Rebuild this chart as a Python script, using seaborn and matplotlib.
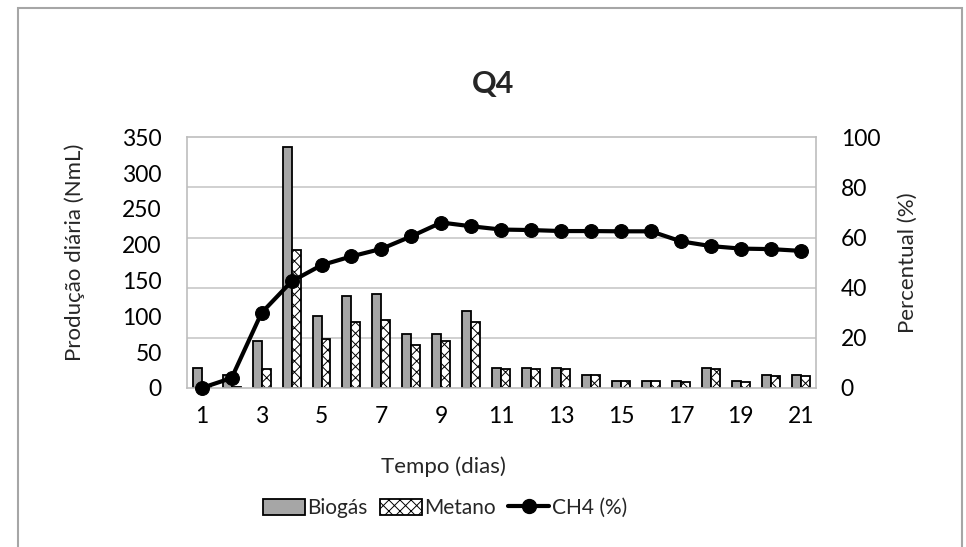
import numpy as np
import pandas as pd
import seaborn as sns
import matplotlib as mpl
import matplotlib.pyplot as plt
from matplotlib.patches import Rectangle, Patch
from matplotlib.lines import Line2D
from matplotlib.ticker import FixedLocator

# dados
dias = list(range(1, 22))
biogas = [28, 18, 65, 337, 101, 129, 131, 75, 75, 108, 28, 28, 28, 18, 10, 10, 10, 28, 10, 18, 18]
metano = [2, 2, 26, 192, 68, 92, 95, 60, 66, 92, 27, 27, 27, 18, 10, 10, 9, 27, 9, 17, 17]
ch4 = [0, 4, 30, 42.5, 49, 52.5, 55.5, 60.5, 66, 64.5, 63.2, 63, 62.6, 62.6, 62.5, 62.5,
       58.5, 56.6, 55.6, 55.4, 54.7]
left_ticks = [0, 50, 100, 150, 200, 250, 300, 350]
right_ticks = [0, 20, 40, 60, 80, 100]

sns.set_theme(style='white')
plt.rcParams['font.family'] = ['Lato', 'DejaVu Sans']
mpl.rcParams['hatch.linewidth'] = 0.7

df = pd.DataFrame({'dia': dias * 2,
                   'serie': ['Biogás'] * len(dias) + ['Metano'] * len(dias),
                   'valor': biogas + metano})

fig = plt.figure(figsize=(9.66, 5.47), dpi=100)
ax = fig.add_axes([0.1933, 0.2907, 0.6511, 0.4583])

sns.barplot(data=df, x='dia', y='valor', hue='serie',
            palette={'Biogás': '#a6a6a6', 'Metano': 'white'},
            width=0.6, edgecolor='black', linewidth=1.3, saturation=1,
            legend=False, ax=ax)
for p in ax.containers[1]:
    p.set_hatch('xxx')

ax.set_ylim(0, 350)
ax.set_yticks(left_ticks)
ax.yaxis.set_minor_locator(FixedLocator(np.linspace(0, 350, 6)))
ax.grid(which='minor', axis='y', color='#c8c8c8', lw=1.2)
ax.set_axisbelow(True)
ax.set_xlabel('')
ax.set_ylabel('')
ax.set_xticks(range(0, len(dias), 2))
ax.set_xticklabels([str(d) for d in dias[::2]])
ax.tick_params(axis='both', which='both', length=0, labelsize=16.5, colors='black')
ax.tick_params(axis='y', pad=18)
ax.tick_params(axis='x', pad=13)
for s in ax.spines.values():
    s.set_color('#bdbdbd')
    s.set_linewidth(1.2)

ax2 = ax.twinx()
sns.lineplot(x=np.arange(len(dias)), y=ch4, ax=ax2, color='black', lw=3,
             marker='o', markersize=10, markeredgecolor='black', clip_on=False)
ax2.set_ylim(0, 100)
ax2.set_yticks(right_ticks)
ax2.tick_params(axis='y', length=0, labelsize=16.5, pad=18, colors='black')
for s in ax2.spines.values():
    s.set_visible(False)
ax.set_xlim(-0.5, len(dias) - 0.5)

fig.text(0.51, 1 - 84 / 547, 'Q4', fontsize=22, fontweight='bold', ha='center', va='center')
fig.text(75 / 966, 1 - 252 / 547, 'Produção diária (NmL)', fontsize=16, rotation=90,
         ha='center', va='center')
fig.text(908 / 966, 1 - 263 / 547, 'Percentual (%)', fontsize=16, rotation=90,
         ha='center', va='center')
fig.text(443 / 966, 1 - 467 / 547, 'Tempo (dias)', fontsize=16, ha='center', va='center')

handles = [Patch(facecolor='#a6a6a6', edgecolor='black', lw=1.3),
           Patch(facecolor='white', edgecolor='black', hatch='xxx', lw=1.3),
           Line2D([], [], color='black', lw=3, marker='o', markersize=10)]
fig.legend(handles, ['Biogás', 'Metano', 'CH4 (%)'], loc='center',
           bbox_to_anchor=(445 / 966, 1 - 508 / 547), ncol=3, frameon=False,
           fontsize=15, handlelength=2.0, handleheight=0.8, handletextpad=0.1,
           columnspacing=0.6)

fig.patches.append(Rectangle((18 / 966, -0.02), 944 / 966, 1 - 8 / 547 + 0.02,
                             transform=fig.transFigure, fill=False,
                             edgecolor='#a6a6a6', lw=1.5))

fig.savefig('out.png', dpi=100)
